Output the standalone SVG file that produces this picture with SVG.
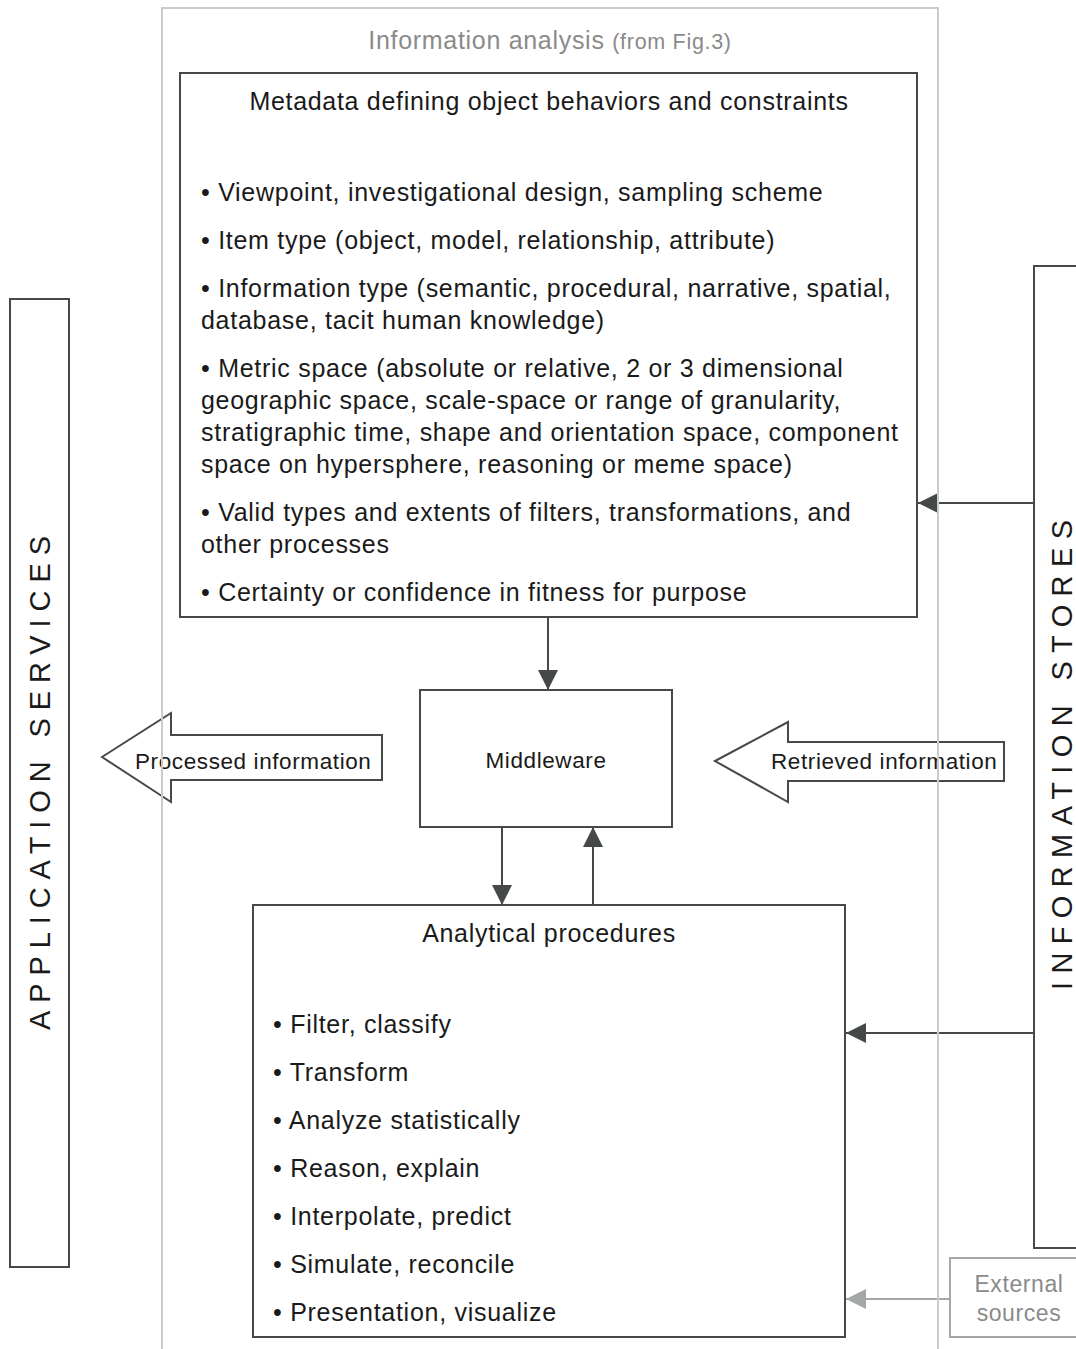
<svg xmlns="http://www.w3.org/2000/svg" width="1076" height="1349" viewBox="0 0 1076 1349">
  <defs>
    <style>
      text { font-family: "Liberation Sans", Arial, sans-serif; fill: #1a1a1a; }
      .box { fill: #ffffff; stroke: #454a48; stroke-width: 2; }
      .frame { fill: none; stroke: #c9cccb; stroke-width: 2; }
      .body { font-size: 25px; letter-spacing: 0.72px; }
      .title { font-size: 25px; letter-spacing: 0.7px; text-anchor: middle; }
      .label { font-size: 22.5px; letter-spacing: 0.6px; }
      .side { font-size: 29px; text-anchor: middle; }
      .conn { stroke: #454a48; stroke-width: 2; fill: none; }
      .conn-ext { stroke: #a3a8a6; stroke-width: 2; fill: none; }
      .hollow { fill: #ffffff; stroke: #454a48; stroke-width: 2; }
      .grey { fill: #8a8a8a; }
    </style>
    <marker id="ah" viewBox="0 0 20 20" refX="20" refY="10" markerWidth="20" markerHeight="20" markerUnits="userSpaceOnUse" orient="auto">
      <path d="M0,0 L20,10 L0,20 Z" fill="#454a48"/>
    </marker>
    <marker id="ah-ext" viewBox="0 0 20 20" refX="20" refY="10" markerWidth="20" markerHeight="20" markerUnits="userSpaceOnUse" orient="auto">
      <path d="M0,0 L20,10 L0,20 Z" fill="#a3a8a6"/>
    </marker>
  </defs>
  <rect width="1076" height="1349" fill="#ffffff"/>

  <!-- application services (left column) -->
  <g id="application-services">
    <rect class="box" x="10" y="299" width="59" height="968"/>
    <text class="side" transform="translate(50,783) rotate(-90)" textLength="494" lengthAdjust="spacing">APPLICATION SERVICES</text>
  </g>

  <!-- information stores (right column) -->
  <g id="information-stores">
    <rect class="box" x="1034" y="266" width="60" height="982"/>
    <text class="side" transform="translate(1072,755) rotate(-90)" textLength="470" lengthAdjust="spacing">INFORMATION STORES</text>
  </g>

  <!-- external sources -->
  <g id="external-sources">
    <rect x="950" y="1258" width="140" height="79" fill="#ffffff" stroke="#a3a8a6" stroke-width="2"/>
    <text x="1019" y="1292" text-anchor="middle" class="grey" style="font-size:23px;letter-spacing:0.6px">External</text>
    <text x="1019" y="1321" text-anchor="middle" class="grey" style="font-size:23px;letter-spacing:0.6px">sources</text>
  </g>

  <!-- connectors -->
  <g id="connectors">
    <line class="conn" x1="548" y1="618" x2="548" y2="690" marker-end="url(#ah)"/>
    <line class="conn" x1="502" y1="827" x2="502" y2="905" marker-end="url(#ah)"/>
    <line class="conn" x1="593" y1="905" x2="593" y2="827" marker-end="url(#ah)"/>
    <line class="conn" x1="1034" y1="503" x2="918" y2="503" marker-end="url(#ah)"/>
    <line class="conn" x1="1034" y1="1033" x2="846" y2="1033" marker-end="url(#ah)"/>
    <line class="conn-ext" x1="950" y1="1299" x2="846" y2="1299" marker-end="url(#ah-ext)"/>
  </g>

  <!-- metadata box -->
  <g id="metadata">
    <rect class="box" x="180" y="73" width="737" height="544"/>
    <text class="title" x="549" y="110">Metadata defining object behaviors and constraints</text>
    <text class="body" x="201" y="201">• Viewpoint, investigational design, sampling scheme</text>
    <text class="body" x="201" y="249">• Item type (object, model, relationship, attribute)</text>
    <text class="body" x="201" y="297">• Information type (semantic, procedural, narrative, spatial,</text>
    <text class="body" x="201" y="329">database, tacit human knowledge)</text>
    <text class="body" x="201" y="377">• Metric space (absolute or relative, 2 or 3 dimensional</text>
    <text class="body" x="201" y="409">geographic space, scale-space or range of granularity,</text>
    <text class="body" x="201" y="441">stratigraphic time, shape and orientation space, component</text>
    <text class="body" x="201" y="473">space on hypersphere, reasoning or meme space)</text>
    <text class="body" x="201" y="521">• Valid types and extents of filters, transformations, and</text>
    <text class="body" x="201" y="553">other processes</text>
    <text class="body" x="201" y="601">• Certainty or confidence in fitness for purpose</text>
  </g>

  <!-- middleware -->
  <g id="middleware">
    <rect class="box" x="420" y="690" width="252" height="137"/>
    <text class="label" x="546" y="768" text-anchor="middle">Middleware</text>
  </g>

  <!-- processed information arrow -->
  <g id="processed-information">
    <path class="hollow" d="M102,757 L171,713 V735 H382 V780 H171 V802 Z"/>
    <text class="label" x="135" y="769">Processed information</text>
  </g>

  <!-- retrieved information arrow -->
  <g id="retrieved-information">
    <path class="hollow" d="M715,761 L788,722 V742 H1004 V781 H788 V802 Z"/>
    <text class="label" x="771" y="769">Retrieved information</text>
  </g>

  <!-- analytical procedures -->
  <g id="analytical-procedures">
    <rect class="box" x="253" y="905" width="592" height="432"/>
    <text class="title" x="549" y="942">Analytical procedures</text>
    <text class="body" x="273" y="1033">• Filter, classify</text>
    <text class="body" x="273" y="1081">• Transform</text>
    <text class="body" x="273" y="1129">• Analyze statistically</text>
    <text class="body" x="273" y="1177">• Reason, explain</text>
    <text class="body" x="273" y="1225">• Interpolate, predict</text>
    <text class="body" x="273" y="1273">• Simulate, reconcile</text>
    <text class="body" x="273" y="1321">• Presentation, visualize</text>
  </g>

  <!-- information analysis frame, drawn last so its thin lines cross the arrows -->
  <g id="information-analysis">
    <path class="frame" d="M162,1349 V8 H938 V1349"/>
    <text x="550" y="49" text-anchor="middle" class="grey" style="font-size:25px;letter-spacing:0.7px">Information analysis <tspan style="font-size:21.5px">(from Fig.3)</tspan></text>
  </g>
</svg>
